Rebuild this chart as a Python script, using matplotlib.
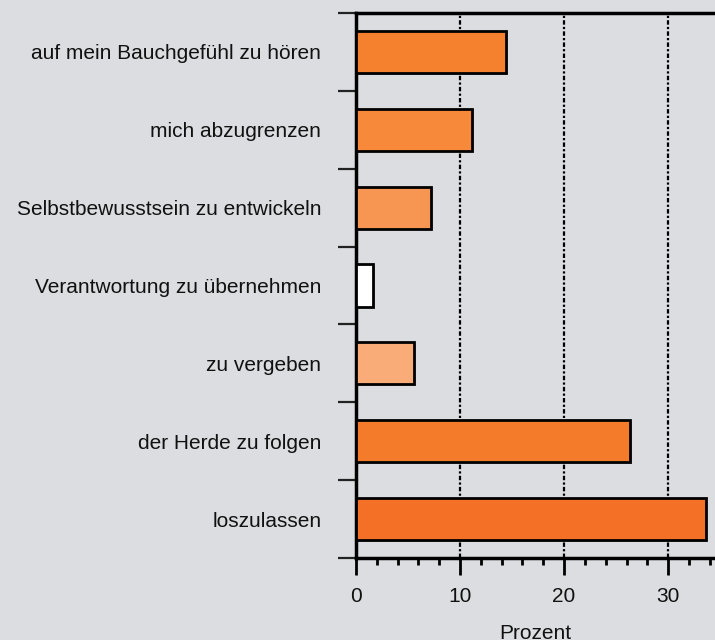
import matplotlib
matplotlib.use("Agg")
import matplotlib.pyplot as plt
from matplotlib.ticker import MultipleLocator, FixedLocator
import matplotlib.patheffects as pe

categories = ["auf mein Bauchgefühl zu hören", "mich abzugrenzen",
              "Selbstbewusstsein zu entwickeln", "Verantwortung zu übernehmen",
              "zu vergeben", "der Herde zu folgen", "loszulassen"]
values = [14.4, 11.15, 7.2, 1.65, 5.6, 26.35, 33.6]
colors = ["#f5812e", "#f6893a", "#f79552", "#ffffff", "#f9ab78", "#f47b2a", "#f37026"]

plt.rcParams['font.family'] = ['Liberation Sans', 'DejaVu Sans']
bg = "#dcdde0"
fig = plt.figure(figsize=(7.15, 6.4), dpi=100, facecolor=bg)
ax = fig.add_axes([356/715, 1-558/640, 1.0-356/715, (558-13)/640])
ax.set_facecolor(bg)

y = list(range(len(categories)))
bars = ax.barh(y, values, height=0.54, color=colors, edgecolor="black",
               linewidth=2, zorder=3)
for b in bars:
    b.set_path_effects([pe.SimplePatchShadow(offset=(1.2, -1.2), shadow_rgbFace="#888888", alpha=0.6),
                        pe.Normal()])

ax.set_ylim(len(categories)-0.5, -0.5)
ax.set_xlim(0, 34.5)

ax.set_yticks(y)
ax.set_yticklabels(categories, fontsize=15, color="#111111")
ax.yaxis.set_minor_locator(FixedLocator([i - 0.5 for i in range(len(categories)+1)]))
ax.tick_params(axis='y', which='major', length=0, pad=25)
ax.tick_params(axis='y', which='minor', length=13, width=1.6, color="#222222")

ax.xaxis.set_major_locator(MultipleLocator(10))
ax.xaxis.set_minor_locator(MultipleLocator(2))
ax.tick_params(axis='x', which='major', length=12, width=2, labelsize=15, pad=9,
               labelcolor="#111111")
ax.tick_params(axis='x', which='minor', length=5, width=2)
ax.set_xlabel("Prozent", fontsize=15, labelpad=13, color="#111111")

ax.grid(axis='x', which='major', color="black", linestyle=(0, (2, 1, 1, 1)), linewidth=1.6, zorder=1)

for s in ['left', 'top', 'bottom']:
    ax.spines[s].set_linewidth(2.5)
ax.spines['right'].set_visible(False)

fig.savefig("out.png", dpi=100, facecolor=bg)
